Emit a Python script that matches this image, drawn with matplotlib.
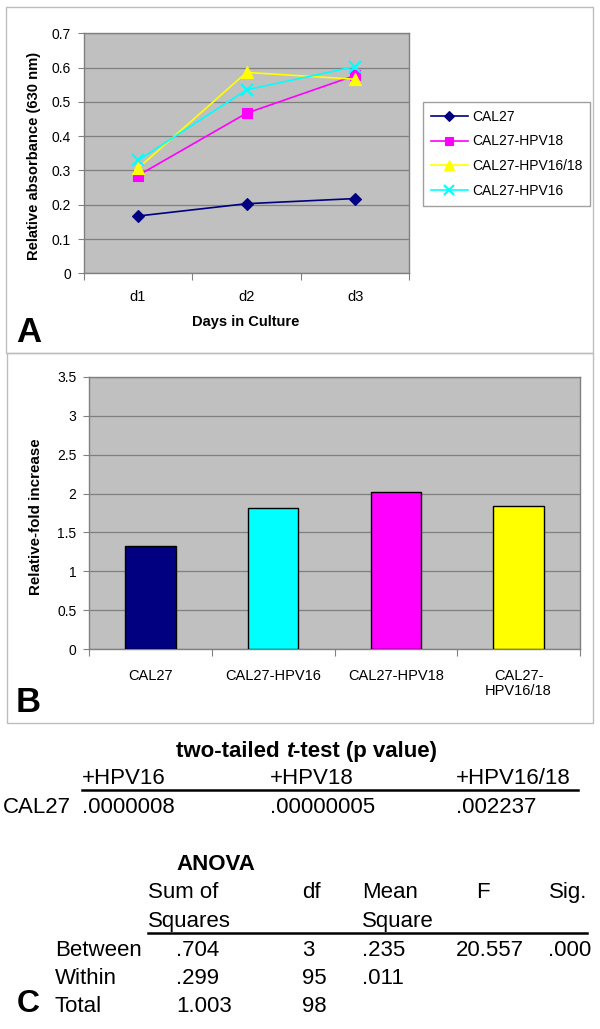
import matplotlib
matplotlib.use("Agg")
import matplotlib.pyplot as plt
from matplotlib.patches import Rectangle
from matplotlib.ticker import FixedLocator, NullFormatter, FixedFormatter

plt.rcParams['font.family'] = ['Liberation Sans', 'DejaVu Sans']

# ---------------- data ----------------
days = ['d1', 'd2', 'd3']
cal27 = [0.167, 0.203, 0.218]
cal27_hpv18 = [0.285, 0.467, 0.577]
cal27_hpv1618 = [0.306, 0.586, 0.566]
cal27_hpv16 = [0.329, 0.535, 0.603]
line_series = ['CAL27', 'CAL27-HPV18', 'CAL27-HPV16/18', 'CAL27-HPV16']

bar_labels = ['CAL27', 'CAL27-HPV16', 'CAL27-HPV18', 'CAL27-\nHPV16/18']
fold_increase = [1.33, 1.82, 2.02, 1.84]

ttest_cols = ['+HPV16', '+HPV18', '+HPV16/18']
ttest_row = 'CAL27'
ttest_vals = ['.0000008', '.00000005', '.002237']

anova_rows = ['Between', 'Within', 'Total']
anova_sumsq = ['.704', '.299', '1.003']
anova_df = ['3', '95', '98']
anova_meansq = ['.235', '.011', '']
anova_F = ['20.557', '', '']
anova_sig = ['.000', '', '']

# ---------------- figure ----------------
W, H = 600, 1029
fig = plt.figure(figsize=(W / 100, H / 100), dpi=100)
fig.patch.set_facecolor('white')

bg = fig.add_axes([0, 0, 1, 1])
bg.set_xlim(0, W)
bg.set_ylim(H, 0)
bg.axis('off')


def add_ax(left, top, right, bottom):
    return fig.add_axes([left / W, 1 - bottom / H, (right - left) / W, (bottom - top) / H])


# panel borders
border_col = '#BDBDBD'
bg.add_patch(Rectangle((6, 6.5), 587, 346.5, fill=False, ec=border_col, lw=1.0))
bg.add_patch(Rectangle((6.5, 353), 586.5, 370, fill=False, ec=border_col, lw=1.0))

grid_col = '#808080'
plot_bg = '#C0C0C0'


def style_ax(ax):
    ax.set_facecolor(plot_bg)
    for s in ax.spines.values():
        s.set_color(grid_col)
        s.set_linewidth(1.0)
    ax.yaxis.grid(True, color=grid_col, lw=0.9)
    ax.set_axisbelow(True)
    ax.tick_params(axis='y', which='major', length=4, color=grid_col, labelsize=10, pad=5)
    ax.tick_params(axis='x', which='major', length=5, color=grid_col)
    ax.tick_params(axis='x', which='minor', length=0, labelsize=10.5)


# ---------------- Panel A ----------------
axA = add_ax(83.6, 33.3, 409.5, 273.3)
style_ax(axA)
xs = list(range(len(days)))
styles = [
    (cal27, '#000080', 'D', 6, 0.8),
    (cal27_hpv18, '#FF00FF', 's', 7, 0.8),
    (cal27_hpv1618, '#FFFF00', '^', 8, 0.8),
    (cal27_hpv16, '#00FFFF', 'x', 8.5, 1.5),
]
for (vals, col, mk, ms, mew), name in zip(styles, line_series):
    axA.plot(xs, vals, color=col, marker=mk, markersize=ms, lw=1.2,
             markeredgewidth=mew, label=name, clip_on=False)
axA.set_xlim(-0.5, len(days) - 0.5)
axA.set_ylim(0, 0.7)
axA.set_yticks([0, 0.1, 0.2, 0.3, 0.4, 0.5, 0.6, 0.7])
axA.set_yticklabels(['0', '0.1', '0.2', '0.3', '0.4', '0.5', '0.6', '0.7'])
axA.xaxis.set_major_locator(FixedLocator([i - 0.5 for i in range(len(days) + 1)]))
axA.xaxis.set_major_formatter(NullFormatter())
axA.xaxis.set_minor_locator(FixedLocator(xs))
axA.xaxis.set_minor_formatter(FixedFormatter(days))
axA.tick_params(axis='x', which='minor', pad=12)

leg = axA.legend(loc='upper left', bbox_to_anchor=(423 / W, 1 - 102 / H),
                 bbox_transform=fig.transFigure, borderaxespad=0, fontsize=10,
                 frameon=True, fancybox=False, edgecolor='#A0A0A0', framealpha=1,
                 handlelength=2.7, handletextpad=0.3, labelspacing=0.78,
                 borderpad=0.55, markerscale=0.85)
leg.get_frame().set_linewidth(1.0)

bg.text(34.5, 156, 'Relative absorbance (630 nm)', rotation=90, ha='center', va='center',
        fontsize=10.6, fontweight='bold')
bg.text(246, 322, 'Days in Culture', ha='center', va='center', fontsize=10.5, fontweight='bold')
bg.text(16, 342, 'A', ha='left', va='baseline', fontsize=25, fontweight='bold')

# ---------------- Panel B ----------------
axB = add_ax(89, 376.7, 580, 649.3)
style_ax(axB)
bx = list(range(len(bar_labels)))
bar_colors = ['#000080', '#00FFFF', '#FF00FF', '#FFFF00']
axB.bar(bx, fold_increase, width=0.41, color=bar_colors, edgecolor='black', linewidth=1.0, zorder=3)
axB.set_xlim(-0.5, len(bar_labels) - 0.5)
axB.set_ylim(0, 3.5)
axB.set_yticks([0, 0.5, 1, 1.5, 2, 2.5, 3, 3.5])
axB.set_yticklabels(['0', '0.5', '1', '1.5', '2', '2.5', '3', '3.5'])
axB.xaxis.set_major_locator(FixedLocator([i - 0.5 for i in range(len(bar_labels) + 1)]))
axB.xaxis.set_major_formatter(NullFormatter())
axB.xaxis.set_minor_locator(FixedLocator(bx))
axB.xaxis.set_minor_formatter(FixedFormatter(bar_labels))
axB.tick_params(axis='x', which='minor', pad=14)
for lab in axB.xaxis.get_minorticklabels():
    lab.set_verticalalignment('top')
    lab.set_linespacing(1.15)

bg.text(36.4, 517, 'Relative-fold increase', rotation=90, ha='center', va='center',
        fontsize=10.9, fontweight='bold')
bg.text(16, 712, 'B', ha='left', va='baseline', fontsize=25, fontweight='bold')

# ---------------- Panel C ----------------
fs = 16
tfs = 16
t1 = bg.text(176, 751.7, 'two-tailed ', ha='left', va='center', fontsize=tfs, fontweight='bold')
t2 = bg.annotate('t', xy=(1, 0), xycoords=t1, ha='left', va='bottom', fontsize=tfs,
                 fontweight='bold', fontstyle='italic')
t3 = bg.annotate('-test (p value)', xy=(1, 0), xycoords=t2, ha='left', va='bottom',
                 fontsize=tfs, fontweight='bold')

col_x = [82, 269.6, 456.3]
for x, c, v in zip(col_x, ttest_cols, ttest_vals):
    bg.text(x, 779, c, ha='left', va='center', fontsize=fs)
    bg.text(x, 807.5, v, ha='left', va='center', fontsize=fs)
bg.plot([82, 578], [790, 790], color='black', lw=1.8)
bg.text(2.5, 807.5, ttest_row, ha='left', va='center', fontsize=fs)

bg.text(176.4, 864.3, 'ANOVA', ha='left', va='center', fontsize=16, fontweight='bold')
hdr_y1, hdr_y2 = 892.3, 921
bg.text(147.6, hdr_y1, 'Sum of', ha='left', va='center', fontsize=fs)
bg.text(147.6, hdr_y2, 'Squares', ha='left', va='center', fontsize=fs)
bg.text(301.8, hdr_y1, 'df', ha='left', va='center', fontsize=fs)
bg.text(362.3, hdr_y1, 'Mean', ha='left', va='center', fontsize=fs)
bg.text(362.3, hdr_y2, 'Square', ha='left', va='center', fontsize=fs)
bg.text(476.6, hdr_y1, 'F', ha='left', va='center', fontsize=fs)
bg.text(549, hdr_y1, 'Sig.', ha='left', va='center', fontsize=fs)
bg.plot([147.6, 587], [932.5, 932.5], color='black', lw=1.8)

row_y = [950.5, 978.5, 1006.7]
for y, r, a, b, c, d, e in zip(row_y, anova_rows, anova_sumsq, anova_df, anova_meansq,
                               anova_F, anova_sig):
    bg.text(54.8, y, r, ha='left', va='center', fontsize=fs)
    bg.text(176.4, y, a, ha='left', va='center', fontsize=fs)
    bg.text(301.8, y, b, ha='left', va='center', fontsize=fs)
    bg.text(362.3, y, c, ha='left', va='center', fontsize=fs)
    bg.text(456.3, y, d, ha='left', va='center', fontsize=fs)
    bg.text(547.5, y, e, ha='left', va='center', fontsize=fs)
bg.text(17, 1012, 'C', ha='left', va='baseline', fontsize=23, fontweight='bold')

fig.savefig('out.png', dpi=100)
